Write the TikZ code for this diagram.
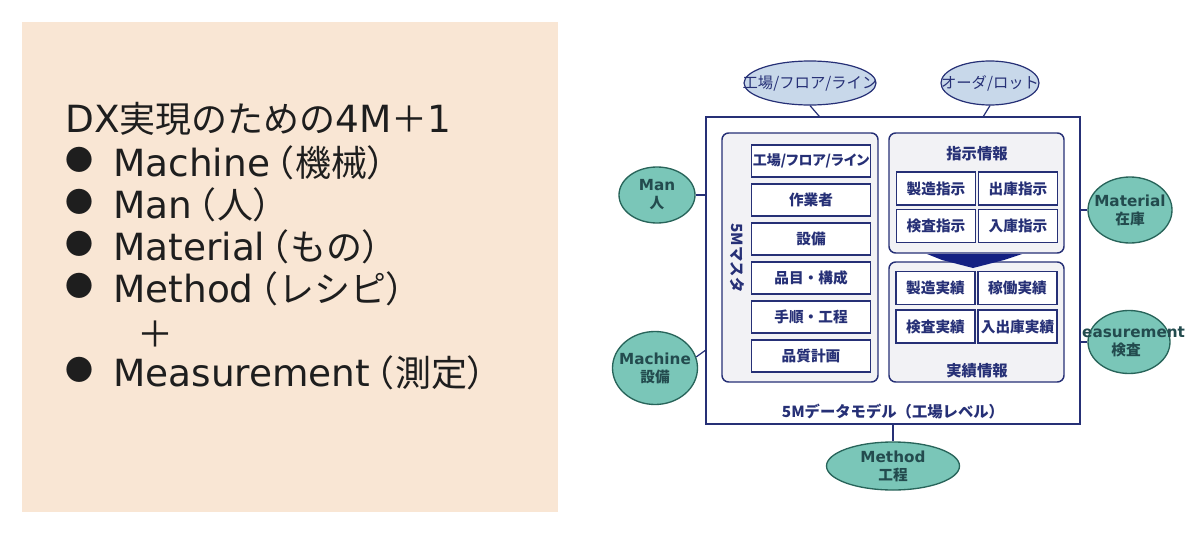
\documentclass[tikz,border=0pt]{standalone}
\usepackage{xcolor}
\usepackage{tikz}
\usetikzlibrary{shapes.geometric}
\usepackage{fontspec}
\newfontfamily\jp{Noto Sans CJK JP}
\newfontfamily\jpp[RawFeature=+palt]{Noto Sans CJK JP}
\newfontfamily\lat[Scale=1.04]{DejaVu Sans}

\definecolor{beige}{RGB}{249,230,212}
\definecolor{ink}{RGB}{30,30,30}
\definecolor{navy}{RGB}{38,48,118}
\definecolor{arrowblue}{RGB}{20,32,130}
\definecolor{grayfill}{RGB}{242,242,245}
\definecolor{lightblue}{RGB}{200,216,234}
\definecolor{tealfill}{RGB}{122,198,184}
\definecolor{tealdark}{RGB}{40,100,90}
\definecolor{tealtext}{RGB}{35,75,78}

\begin{document}
\begin{tikzpicture}[
    x=0.75pt, y=-0.75pt,
    panel/.style={rectangle, fill=beige, inner sep=0pt},
    listtext/.style={anchor=base west, inner sep=0pt, text=ink, font=\jp\fontsize{27}{32}\selectfont},
    bullet/.style={inner sep=0pt, text=ink, font=\jp\fontsize{21}{24}\selectfont},
    model/.style={rectangle, draw=navy, fill=white, line width=0.9pt, minimum width=280.5pt, minimum height=230.25pt},
    group/.style={rectangle, rounded corners=5pt, draw=navy, fill=grayfill, line width=1.1pt},
    item/.style={rectangle, draw=navy, fill=white, line width=1.3pt, inner sep=0pt, text=navy, font=\jp\bfseries\fontsize{11}{13}\selectfont},
    cell/.style={item, minimum width=59.25pt, minimum height=24.75pt},
    title/.style={inner sep=0pt, text=navy, font=\jp\bfseries\fontsize{11.5}{13}\selectfont},
    place/.style={ellipse, draw=navy, fill=lightblue, line width=0.9pt, minimum height=33pt},
    placetext/.style={inner sep=0pt, text=navy, font=\jp\fontsize{11.5}{13}\selectfont},
    factor/.style={ellipse, draw=tealdark, fill=tealfill, line width=1pt},
    factortext/.style={inner sep=0pt, align=center, text=tealtext, font=\jp\bfseries\fontsize{11}{13.5}\selectfont},
    link/.style={draw=navy, line width=0.9pt}
]

\path[use as bounding box, fill=white] (0,0) rectangle (1200,539);

% Panel 4M+1
\node[panel, minimum width=402pt, minimum height=367.5pt] (panel) at (290,267) {};
\node[listtext] (heading) at (65,132) {{\lat DX}実現のための{\lat 4M}＋{\lat 1}};
\foreach \txt/\yy [count=\i] in {{{\lat Machine}\kern4pt{\jpp （}\kern1.5pt機械{\jpp ）}}/176, {{\lat Man}\kern4pt{\jpp （}\kern1.5pt人{\jpp ）}}/218, {{\lat Material}\kern4pt{\jpp （}\kern1.5ptもの{\jpp ）}}/260, {{\lat Method}\kern4pt{\jpp （}\kern1.5ptレシピ{\jpp ）}}/302, {{\lat Measurement}\kern4pt{\jpp （}\kern1.5pt測定{\jpp ）}}/386}
{
    \node[bullet] (dot\i) at (79,\yy-16) {●};
    \node[listtext] (line\i) at (113,\yy) {\txt};
}
\node[bullet, font=\jp\fontsize{27}{32}\selectfont] (plus) at (155,334) {＋};

% Measurement (behind the model box)
\node[factor, minimum width=61.5pt, minimum height=47.25pt] (measure) at (1129,342) {};
\node[factortext] (measuretext) at (1126,342) {{\lat Measurement}\\検査};

% 5Mデータモデル
\node[model] (model) at (893,270.5) {};
\node[title] (modeltitle) at (893,412) {5Mデータモデル（工場レベル）};

% 5Mマスタ
\node[group, minimum width=117pt, minimum height=186.75pt] (master) at (800,257.5) {};
\node[title, rotate=-90] (mastertitle) at (737,258) {5Mマスタ};
\foreach \txt [count=\i] in {{\jpp\fontsize{10.5}{13}\selectfont 工場/フロア/ライン}, 作業者, 設備, 品目・構成, 手順・工程, 品質計画}
    \node[item, minimum width=89.25pt, minimum height=24pt] (m\i) at (811,122+39*\i) {\txt};

% 指示情報
\node[group, minimum width=131.25pt, minimum height=90pt] (order) at (976.5,193) {};
\node[title] (ordertitle) at (977,154) {指示情報};
\node[cell] (o1) at (936,188.5) {製造指示};
\node[cell] (o2) at (1018,188.5) {出庫指示};
\node[cell] (o3) at (936,226) {検査指示};
\node[cell] (o4) at (1018,226) {入庫指示};

% 実績情報
\node[group, minimum width=131.25pt, minimum height=90pt] (result) at (976.5,322) {};
\node[title] (resulttitle) at (977,371) {実績情報};
\node[cell] (r1) at (935.5,288) {製造実績};
\node[cell] (r2) at (1017.5,288) {稼働実績};
\node[cell] (r3) at (935.5,326.5) {検査実績};
\node[cell] (r4) at (1017.5,326.5) {入出庫実績};

% 指示 -> 実績
\fill[arrowblue] (927,254) -- (1022,254) -- (1004,260) -- (973,268) -- (942,260) -- cycle;

% 工場 / オーダ
\node[place, minimum width=99pt] (plant) at (810,83) {};
\node[placetext] (planttext) at (plant) {工場/フロア/ライン};
\node[place, minimum width=73.5pt] (lot) at (990,83) {};
\node[placetext] (lottext) at (lot) {オーダ/ロット};
\draw[link] (plant.south) -- ([xshift=7pt]plant.south |- model.north);
\draw[link] (lot.south) -- ([xshift=-5pt]lot.south |- model.north);

% 4M+1
\node[factor, minimum width=57pt, minimum height=42pt] (man) at (657,195) {};
\node[factortext] (mantext) at (man) {{\lat Man}\\人};
\node[factor, minimum width=63.75pt, minimum height=54.75pt] (machine) at (655,368) {};
\node[factortext] (machinetext) at (machine) {{\lat Machine}\\設備};
\node[factor, minimum width=63pt, minimum height=49.5pt] (material) at (1130,210) {};
\node[factortext] (materialtext) at (material) {{\lat Material}\\在庫};
\node[factor, minimum width=99.75pt, minimum height=36pt] (method) at (893,466) {};
\node[factortext] (methodtext) at (method) {{\lat Method}\\工程};

\draw[link] (man.east) -- (man.east -| model.west);
\draw[link] (machine.15) -- ([yshift=5pt]machine.15 -| model.west);
\draw[link] (material.west) -- (material.west -| model.east);
\draw[link] (measure.west) -- (measure.west -| model.east);
\draw[link] (method.north) -- (method.north |- model.south);

\end{tikzpicture}
\end{document}
